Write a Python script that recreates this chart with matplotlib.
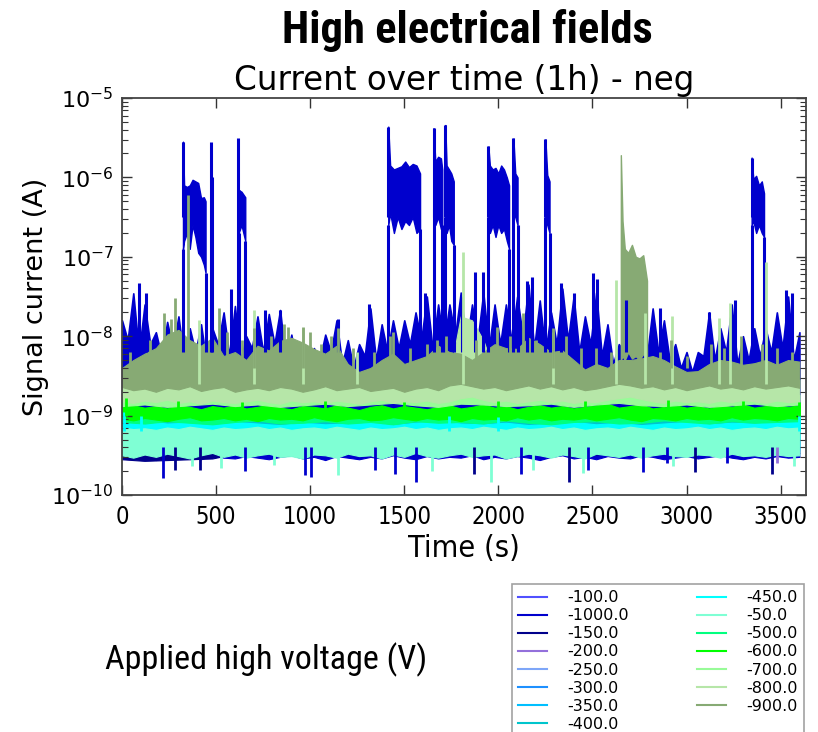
import os
import numpy as np
import matplotlib
matplotlib.use("Agg")
from matplotlib import pyplot as plt
from matplotlib import font_manager as fm
from matplotlib.lines import Line2D
from matplotlib.ticker import LogLocator, NullFormatter

## sample grids (s)
t60 = np.arange(0, 3601, 60)
t120 = np.arange(0, 3601, 120)
t300 = np.arange(0, 3601, 300)

## all current values below are log10(I / A)

# -1000 V : noisy baseline (peaks every 60 s, troughs in between) plus the bursts
blue_peak = [-7.80, -7.46, -7.60, -7.95, -7.82, -7.75, -7.90, -7.85, -7.90, -7.70,
             -7.62, -8.00, -7.75, -7.72, -7.67, -7.98, -8.10, -8.15, -7.98, -7.80,
             -8.05, -8.10, -7.65, -7.85, -7.80, -7.80, -7.70, -7.50, -7.60, -7.60,
             -7.45, -7.60, -7.45, -7.60, -7.60, -7.50, -7.35, -7.55, -7.70, -7.40,
             -7.50, -7.75, -7.45, -7.85, -8.10, -7.60, -7.80, -7.65, -7.80, -8.10,
             -8.20, -8.20, -7.70, -7.90, -7.60, -8.00, -7.90, -7.90, -7.70, -7.50,
             -7.95]
blue_trough = [-8.05, -8.20, -8.10, -8.25, -8.15, -8.30, -8.20, -8.35, -8.10, -8.25,
               -8.30, -8.15, -8.20, -8.10, -8.30, -8.40, -8.35, -8.30, -8.20, -8.35,
               -8.40, -8.25, -8.30, -8.20, -8.15, -8.10, -8.05, -8.15, -8.10, -8.00,
               -8.10, -8.05, -8.15, -8.10, -8.05, -8.00, -8.15, -8.20, -8.10, -8.05,
               -8.20, -8.10, -8.25, -8.35, -8.20, -8.15, -8.25, -8.20, -8.30, -8.40,
               -8.45, -8.25, -8.30, -8.20, -8.35, -8.30, -8.25, -8.20, -8.15, -8.30]
blue_lo = [-9.52, -9.55, -9.53, -9.56, -9.51, -9.54, -9.52, -9.55, -9.50, -9.53,
           -9.54, -9.51, -9.53, -9.55, -9.52, -9.50, -9.54, -9.52, -9.56, -9.51,
           -9.53, -9.55, -9.52, -9.54, -9.50, -9.53, -9.55, -9.51, -9.54, -9.52,
           -9.53, -9.50, -9.55, -9.52, -9.54, -9.51, -9.53, -9.56, -9.52, -9.50,
           -9.54, -9.52, -9.55, -9.51, -9.53, -9.54, -9.50, -9.52, -9.55, -9.53,
           -9.51, -9.54, -9.52, -9.50, -9.53, -9.55, -9.52, -9.54, -9.51, -9.53,
           -9.52]
blue_spike_t = [93, 130, 471, 480, 578, 617, 760, 840, 1150, 1310, 1610, 1805, 1878,
                1917, 2150, 2180, 2333, 2400, 2503, 2525, 2680, 2860, 3120, 3260,
                3528, 3563]
blue_spike_v = [-7.33, -7.45, -5.55, -6.00, -7.40, -5.51, -7.67, -7.67, -7.78, -7.59,
                -7.45, -7.50, -7.19, -7.19, -7.30, -7.26, -7.33, -7.45, -7.21, -7.28,
                -7.54, -7.65, -7.70, -7.55, -7.42, -7.45]
blue_dip_t = [220, 655, 972, 1005, 1344, 1451, 1563, 2120, 2476, 2770, 2895, 3215]
blue_dip_v = [-9.78, -9.70, -9.75, -9.77, -9.69, -9.73, -9.83, -9.73, -9.69, -9.71,
              -9.60, -9.60]
# bursts: (times, top, bottom)
blue_bursts = [
    ([324, 330, 345, 360, 375, 390, 405, 420, 435, 444],
     [-5.55, -6.10, -6.12, -6.10, -6.03, -6.05, -6.07, -6.26, -6.25, -6.30],
     [-6.90, -6.80, -6.70, -6.90, -6.60, -6.75, -6.95, -7.00, -7.10, -7.20]),
    ([620, 635, 655], [-6.16, -6.18, -6.25], [-6.70, -6.60, -6.80]),
    ([1415, 1425, 1445, 1465, 1485, 1505, 1525, 1545, 1565, 1584],
     [-5.36, -5.85, -5.90, -5.88, -5.86, -5.80, -5.87, -5.83, -5.85, -5.95],
     [-6.60, -6.45, -6.70, -6.50, -6.65, -6.55, -6.60, -6.50, -6.70, -6.65]),
    ([1656, 1665, 1680, 1695, 1702],
     [-5.38, -5.80, -5.74, -5.76, -5.90], [-6.40, -6.60, -6.50, -6.65, -6.60]),
    ([1718, 1725, 1738, 1750, 1763],
     [-5.34, -5.85, -5.90, -5.95, -6.05], [-6.50, -6.70, -6.60, -6.80, -6.85]),
    ([1947, 1955, 1970, 1985, 2000, 2015, 2030, 2045, 2057],
     [-5.61, -5.85, -5.90, -5.88, -5.95, -5.85, -5.90, -6.00, -6.10],
     [-6.50, -6.70, -6.60, -6.75, -6.60, -6.70, -6.65, -6.80, -6.90]),
    ([2080, 2090, 2102], [-5.51, -5.95, -6.00], [-6.40, -6.50, -6.60]),
    ([2250, 2260, 2272], [-5.52, -5.97, -6.05], [-6.50, -6.60, -6.70]),
    ([3346, 3355, 3370, 3385, 3400, 3412],
     [-5.75, -6.02, -5.98, -6.10, -6.05, -6.20],
     [-6.60, -6.55, -6.70, -6.60, -6.70, -6.75]),
]

# -900 V
s900_hi = [-8.40, -8.30, -8.22, -8.15, -7.98, -7.92, -8.05, -8.12, -8.02, -8.25,
           -8.20, -8.30, -8.12, -8.18, -8.06, -8.02, -8.08, -8.16, -8.22, -8.12,
           -8.35, -8.45, -8.40, -8.30, -8.22, -8.35, -8.30, -8.25, -8.12, -8.20,
           -8.22, -8.30, -8.20, -8.10, -8.15, -8.16, -8.02, -8.10, -8.20, -8.18,
           -8.30, -8.42, -8.35, -8.40, -8.30, -8.30, -8.28, -8.25, -8.30, -8.38,
           -8.45, -8.44, -8.35, -8.30, -8.32, -8.36, -8.34, -8.30, -8.36, -8.30,
           -8.32]
s900_lo = [-8.64, -8.68, -8.66, -8.70, -8.65, -8.67, -8.63, -8.69, -8.66, -8.64,
           -8.70, -8.67, -8.65, -8.68, -8.64, -8.66, -8.70, -8.67, -8.63, -8.68,
           -8.66, -8.64, -8.69, -8.67, -8.65, -8.70, -8.66, -8.64, -8.68, -8.62,
           -8.60, -8.63, -8.66, -8.64, -8.68, -8.65, -8.62, -8.66, -8.63, -8.67,
           -8.64, -8.68, -8.66, -8.63, -8.60, -8.62, -8.65, -8.63, -8.67, -8.64,
           -8.68, -8.65, -8.62, -8.66, -8.64, -8.67, -8.63, -8.66, -8.64, -8.62,
           -8.65]
s900_spike_t = [40, 150, 221, 262, 283, 350, 515, 560, 640, 700, 790, 860, 880, 961,
                1000, 1060, 1110, 1150, 1230, 1340, 1425, 1440, 1530, 1620, 1675, 1720,
                1880, 1994, 2060, 2130, 2200, 2290, 2360, 2440, 2520, 2600, 2860, 2915,
                3000, 3130, 3200, 3290, 3400, 3480, 3560]
s900_spike_v = [-8.20, -8.05, -7.71, -7.78, -7.52, -6.22, -7.65, -7.95, -8.05, -7.90,
                -8.00, -7.85, -7.88, -7.88, -7.95, -8.10, -8.00, -7.90, -8.15, -8.20,
                -8.00, -7.95, -8.15, -8.10, -8.05, -8.00, -8.05, -7.88, -8.00, -7.71,
                -8.05, -7.90, -8.00, -8.15, -8.15, -8.20, -8.20, -8.05, -8.25, -8.10,
                -8.15, -8.00, -8.10, -8.15, -8.20]
s900_burst_t = [2651, 2660, 2672, 2690, 2710, 2730, 2750, 2770, 2790]
s900_burst_hi = [-5.72, -6.55, -6.90, -6.95, -6.85, -7.00, -7.02, -6.98, -7.30]
s900_burst_lo = [-8.30, -8.25, -8.30, -8.20, -8.28, -8.25, -8.30, -8.22, -8.30]

# -800 V
s800_hi = [-8.56, -8.60, -8.58, -8.55, -8.52, -8.57, -8.54, -8.60, -8.56, -8.58,
           -8.55, -8.59, -8.53, -8.57, -8.60, -8.56, -8.52, -8.58, -8.55, -8.60,
           -8.57, -8.62, -8.58, -8.55, -8.60, -8.57, -8.55, -8.58, -8.54, -8.50,
           -7.75, -7.80, -8.05, -8.45, -8.52, -8.55, -8.50, -8.54, -8.48, -8.52,
           -8.56, -8.58, -8.55, -8.50, -8.40, -8.35, -8.40, -8.52, -8.55, -8.58,
           -8.60, -8.57, -8.54, -8.52, -8.56, -8.55, -8.58, -8.54, -8.56, -8.52,
           -8.55]
s800_lo = [-8.82, -8.84, -8.81, -8.83, -8.80, -8.84, -8.82, -8.85, -8.81, -8.83,
           -8.84, -8.82, -8.80, -8.83, -8.85, -8.81, -8.83, -8.82, -8.84, -8.81,
           -8.83, -8.85, -8.82, -8.80, -8.84, -8.82, -8.83, -8.81, -8.84, -8.82,
           -8.78, -8.76, -8.80, -8.83, -8.81, -8.84, -8.82, -8.80, -8.83, -8.81,
           -8.84, -8.82, -8.83, -8.80, -8.78, -8.76, -8.79, -8.82, -8.84, -8.81,
           -8.83, -8.82, -8.84, -8.81, -8.83, -8.80, -8.82, -8.84, -8.81, -8.83,
           -8.82]
s800_spike_t = [408, 702, 960, 1250, 1810, 2290, 2627, 2779, 2921, 3171, 3233, 3420]
s800_spike_v = [-7.80, -7.67, -7.90, -8.20, -6.94, -7.95, -7.29, -7.71, -7.75, -7.77,
                -7.58, -7.07]

# -700 V
s700_hi = [-8.74, -8.77, -8.75, -8.78, -8.73, -8.76, -8.79, -8.75, -8.77, -8.74,
           -8.78, -8.76, -8.73, -8.77, -8.75, -8.70, -8.72, -8.76, -8.74, -8.78,
           -8.75, -8.73, -8.68, -8.72, -8.76, -8.74, -8.77, -8.75, -8.73, -8.76,
           -8.74]
s700_lo = [-8.88, -8.86, -8.89, -8.87, -8.85, -8.88, -8.86, -8.89, -8.87, -8.85,
           -8.88, -8.86, -8.84, -8.87, -8.89, -8.85, -8.86, -8.88, -8.87, -8.85,
           -8.89, -8.86, -8.84, -8.87, -8.88, -8.86, -8.89, -8.87, -8.85, -8.88,
           -8.86]

# -600 V
s600_hi = [-8.83, -8.87, -8.90, -8.88, -8.91, -8.87, -8.89, -8.92, -8.88, -8.90,
           -8.87, -8.91, -8.89, -8.86, -8.90, -8.92, -8.88, -8.89, -8.91, -8.87,
           -8.90, -8.93, -8.89, -8.87, -8.91, -8.88, -8.90, -8.92, -8.89, -8.87,
           -8.91, -8.89, -8.86, -8.90, -8.88, -8.92, -8.89, -8.87, -8.90, -8.88,
           -8.91, -8.89, -8.87, -8.85, -8.90, -8.88, -8.86, -8.91, -8.89, -8.87,
           -8.90, -8.88, -8.91, -8.87, -8.89, -8.86, -8.90, -8.88, -8.87, -8.89,
           -8.87]
s600_lo = [-9.04, -9.06, -9.03, -9.05, -9.07, -9.04, -9.02, -9.06, -9.05, -9.03,
           -9.06, -9.04, -9.07, -9.03, -9.05, -9.04, -9.06, -9.02, -9.05, -9.07,
           -9.04, -9.03, -9.06, -9.05, -9.02, -9.04, -9.06, -9.03, -9.05, -9.04,
           -9.07, -9.03, -9.05, -9.04, -9.06, -9.02, -9.05, -9.03, -9.06, -9.04,
           -9.05, -9.03, -9.06, -9.04, -9.02, -9.05, -9.07, -9.03, -9.04, -9.06,
           -9.03, -9.05, -9.04, -9.06, -9.02, -9.05, -9.03, -9.04, -9.06, -9.03,
           -9.04]
s600_spike_t = [20, 300, 640, 1080, 1500, 2000, 2460, 2900, 3300, 3600]
s600_spike_v = [-8.78, -8.82, -8.83, -8.82, -8.83, -8.81, -8.82, -8.80, -8.82, -8.83]

# -500 V
s500_hi = [-8.96, -8.98, -8.95, -8.97, -8.99, -8.96, -8.94, -8.98, -8.97, -8.95,
           -8.98, -8.96, -8.99, -8.95, -8.97, -8.96, -8.98, -8.94, -8.97, -8.99,
           -8.96, -8.95, -8.98, -8.97, -8.94, -8.96, -8.98, -8.95, -8.97, -8.96,
           -8.95]
s500_lo = [-9.08, -9.10, -9.07, -9.09, -9.11, -9.08, -9.06, -9.10, -9.09, -9.07,
           -9.10, -9.08, -9.11, -9.07, -9.09, -9.08, -9.10, -9.06, -9.09, -9.11,
           -9.08, -9.07, -9.10, -9.09, -9.06, -9.08, -9.10, -9.07, -9.09, -9.08,
           -9.07]

# -450 V
s450_hi = [-9.02, -9.07, -9.10, -9.09, -9.11, -9.08, -9.10, -9.12, -9.09, -9.11,
           -9.10, -9.08, -9.12, -9.09, -9.07, -9.10, -9.11, -9.09, -9.12, -9.10,
           -9.08, -9.11, -9.09, -9.12, -9.10, -9.08, -9.11, -9.09, -9.10, -9.08,
           -9.04]
s450_lo = [-9.30, -9.32, -9.29, -9.31, -9.33, -9.30, -9.28, -9.32, -9.31, -9.29,
           -9.32, -9.30, -9.33, -9.29, -9.31, -9.30, -9.32, -9.28, -9.31, -9.33,
           -9.30, -9.29, -9.32, -9.31, -9.28, -9.30, -9.32, -9.29, -9.31, -9.30,
           -9.29]
s450_spike_t = [10, 100, 1736, 2000, 3600]
s450_spike_v = [-8.95, -9.00, -9.01, -9.02, -8.98]

# -400 V
s400_hi = [-9.03, -9.05, -9.04, -9.06, -9.03, -9.05, -9.07, -9.04, -9.06, -9.05,
           -9.03, -9.06, -9.04, -9.05, -9.07, -9.03, -9.05, -9.04, -9.06, -9.05,
           -9.03, -9.06, -9.04, -9.07, -9.05, -9.03, -9.06, -9.04, -9.05, -9.06,
           -9.04]
s400_lo = [-9.31, -9.29, -9.32, -9.30, -9.28, -9.31, -9.33, -9.29, -9.30, -9.32,
           -9.28, -9.31, -9.30, -9.33, -9.29, -9.31, -9.30, -9.28, -9.32, -9.30,
           -9.31, -9.29, -9.33, -9.30, -9.28, -9.31, -9.30, -9.32, -9.29, -9.31,
           -9.30]

# -50 V
s50_hi = [-9.15, -9.17, -9.16, -9.18, -9.15, -9.17, -9.14, -9.16, -9.18, -9.15,
          -9.17, -9.16, -9.14, -9.17, -9.15, -9.18, -9.16, -9.15, -9.17, -9.14,
          -9.16, -9.18, -9.15, -9.17, -9.16, -9.14, -9.17, -9.15, -9.18, -9.16,
          -9.15, -9.17, -9.14, -9.16, -9.18, -9.15, -9.17, -9.16, -9.14, -9.17,
          -9.15, -9.18, -9.16, -9.15, -9.17, -9.14, -9.16, -9.18, -9.15, -9.17,
          -9.16, -9.14, -9.17, -9.15, -9.18, -9.16, -9.15, -9.17, -9.14, -9.16,
          -9.15]
s50_lo = [-9.50, -9.53, -9.49, -9.52, -9.48, -9.51, -9.54, -9.50, -9.47, -9.52,
          -9.49, -9.53, -9.50, -9.48, -9.52, -9.51, -9.54, -9.49, -9.50, -9.53,
          -9.48, -9.51, -9.50, -9.54, -9.49, -9.52, -9.47, -9.51, -9.53, -9.50,
          -9.48, -9.52, -9.50, -9.49, -9.54, -9.51, -9.48, -9.50, -9.53, -9.49,
          -9.51, -9.54, -9.48, -9.50, -9.52, -9.49, -9.53, -9.50, -9.48, -9.51,
          -9.52, -9.49, -9.50, -9.53, -9.48, -9.51, -9.50, -9.52, -9.49, -9.51,
          -9.50]
s50_dip_t = [372, 524, 809, 1148, 1650, 1959, 2182, 2449, 2930, 3572]
s50_dip_v = [-9.64, -9.66, -9.62, -9.75, -9.70, -9.83, -9.68, -9.72, -9.64, -9.64]

# -150 V
s150_hi = [-9.30, -9.32, -9.29, -9.31, -9.33, -9.30, -9.28, -9.32, -9.31, -9.29,
           -9.32, -9.30, -9.33, -9.29, -9.31, -9.30, -9.32, -9.28, -9.31, -9.33,
           -9.30, -9.29, -9.32, -9.31, -9.28, -9.30, -9.32, -9.29, -9.31, -9.30,
           -9.29]
s150_lo = [-9.55, -9.57, -9.56, -9.55, -9.54, -9.48, -9.47, -9.49, -9.48, -9.46,
           -9.48, -9.47, -9.49, -9.46, -9.48, -9.47, -9.49, -9.48, -9.46, -9.48,
           -9.47, -9.49, -9.46, -9.48, -9.47, -9.49, -9.48, -9.46, -9.47, -9.48,
           -9.47]
s150_dip_t = [283, 417, 1870, 2378, 3046, 3456]
s150_dip_v = [-9.68, -9.68, -9.73, -9.83, -9.71, -9.73]

# low-voltage runs, almost fully hidden under the -50 V band
s100_hi = [-9.22, -9.25, -9.23, -9.26, -9.24, -9.22, -9.25, -9.23, -9.26, -9.24, -9.22, -9.25, -9.23]
s100_lo = [-9.46, -9.48, -9.45, -9.47, -9.49, -9.46, -9.48, -9.45, -9.47, -9.46, -9.48, -9.45, -9.47]
s200_hi = [-9.24, -9.22, -9.25, -9.23, -9.26, -9.24, -9.22, -9.25, -9.23, -9.26, -9.24, -9.22, -9.25]
s200_lo = [-9.45, -9.47, -9.46, -9.48, -9.45, -9.47, -9.46, -9.48, -9.45, -9.47, -9.46, -9.48, -9.47]
s250_hi = [-9.23, -9.25, -9.22, -9.24, -9.26, -9.23, -9.25, -9.22, -9.24, -9.26, -9.23, -9.25, -9.24]
s250_lo = [-9.44, -9.46, -9.45, -9.47, -9.44, -9.46, -9.45, -9.47, -9.44, -9.46, -9.45, -9.47, -9.46]
s300_hi = [-9.21, -9.23, -9.22, -9.24, -9.21, -9.23, -9.22, -9.24, -9.21, -9.23, -9.22, -9.24, -9.22]
s300_lo = [-9.43, -9.45, -9.44, -9.46, -9.43, -9.45, -9.44, -9.46, -9.43, -9.45, -9.44, -9.46, -9.44]
s350_hi = [-9.18, -9.20, -9.19, -9.21, -9.18, -9.20, -9.19, -9.21, -9.18, -9.20, -9.19, -9.21, -9.19]
s350_lo = [-9.40, -9.42, -9.41, -9.43, -9.40, -9.42, -9.41, -9.43, -9.40, -9.42, -9.41, -9.43, -9.41]
s200_dip_t = [3483]
s200_dip_v = [-9.60]

labels = ["-100.0", "-1000.0", "-150.0", "-200.0", "-250.0", "-300.0", "-350.0",
          "-400.0", "-450.0", "-50.0", "-500.0", "-600.0", "-700.0", "-800.0", "-900.0"]
colors = ["#5050ff", "#0000cd", "#00008b", "#9370db", "#7ea6f8", "#1e90ff", "#00bfff",
          "#00c5cc", "#00ffff", "#7fffd4", "#00ff7f", "#00ff00", "#98fb98", "#b6e6a8",
          "#87aa74"]
col = dict(zip(labels, colors))


def pick_font(prefixes, size):
    files = sorted(f.fname for f in fm.fontManager.ttflist)
    for p in prefixes:
        for path in files:
            if os.path.basename(path).lower().startswith(p):
                return fm.FontProperties(fname=path, size=size)
    return fm.FontProperties(family="DejaVu Sans", size=size)


def E(v):
    return 10.0 ** np.asarray(v, dtype=float)


plt.rcParams["mathtext.default"] = "regular"
fig = plt.figure(figsize=(8.18, 7.32), dpi=100)
ax = fig.add_axes([122 / 818, 1 - 495 / 732, 684 / 818, 397 / 732])


def band(t, lo, hi, c):
    ax.fill_between(t, E(lo), E(hi), color=c, lw=0.8)


def spikes(ts, vs, base, c, lw=2.0):
    ax.vlines(ts, 10.0 ** base, E(vs), color=c, lw=lw)


# draw in the legend order (later runs sit on top)
band(t300, s100_lo, s100_hi, col["-100.0"])

# -1000 V
blue = col["-1000.0"]
ax.fill_between(t60, E(blue_lo), 1e-9, color=blue, lw=0.8)
zig_t = np.concatenate([t60, t60[:-1] + 30])
zig_v = np.concatenate([blue_peak, blue_trough])
order = np.argsort(zig_t)
ax.fill_between(zig_t[order], 1e-9, E(zig_v[order]), color=blue, lw=1.2)
for bt, bhi, blo in blue_bursts:
    ax.fill_between(bt, E(blo), E(bhi), color=blue, lw=1.0)
    spikes([bt[0], bt[-1]], [blo[0], blo[-1]], -8.2, blue, lw=2.2)
    spikes([bt[0]], [bhi[0]], -6.5, blue, lw=2.2)
spikes(blue_spike_t, blue_spike_v, -8.2, blue, lw=2.2)
spikes(blue_dip_t, blue_dip_v, -9.4, blue)

band(t120, s150_lo, s150_hi, col["-150.0"])
spikes(s150_dip_t, s150_dip_v, -9.4, col["-150.0"])
band(t300, s200_lo, s200_hi, col["-200.0"])
spikes(s200_dip_t, s200_dip_v, -9.4, col["-200.0"])
band(t300, s250_lo, s250_hi, col["-250.0"])
band(t300, s300_lo, s300_hi, col["-300.0"])
band(t300, s350_lo, s350_hi, col["-350.0"])
band(t120, s400_lo, s400_hi, col["-400.0"])
band(t120, s450_lo, s450_hi, col["-450.0"])
spikes(s450_spike_t, s450_spike_v, -9.2, col["-450.0"])
band(t60, s50_lo, s50_hi, col["-50.0"])
spikes(s50_dip_t, s50_dip_v, -9.3, col["-50.0"])
band(t120, s500_lo, s500_hi, col["-500.0"])
band(t60, s600_lo, s600_hi, col["-600.0"])
spikes(s600_spike_t, s600_spike_v, -9.0, col["-600.0"])
band(t120, s700_lo, s700_hi, col["-700.0"])
band(t60, s800_lo, s800_hi, col["-800.0"])
spikes(s800_spike_t, s800_spike_v, -8.6, col["-800.0"])
band(t60, s900_lo, s900_hi, col["-900.0"])
ax.fill_between(s900_burst_t, E(s900_burst_lo), E(s900_burst_hi), color=col["-900.0"], lw=1.0)
spikes(s900_spike_t, s900_spike_v, -8.4, col["-900.0"])

ax.set_yscale("log")
ax.set_xlim(0, 3635)
ax.set_ylim(1e-10, 1e-5)
ax.set_xticks(np.arange(0, 3501, 500))
ax.yaxis.set_minor_locator(LogLocator(base=10, subs=np.arange(2, 10)))
ax.yaxis.set_minor_formatter(NullFormatter())
ax.tick_params(which="both", direction="in", top=True, right=True, color="#333333")
ax.tick_params(which="major", length=7, width=1.0)
ax.tick_params(which="minor", length=4, width=0.8)
ax.tick_params(axis="y", labelsize=16, pad=6)
for s in ax.spines.values():
    s.set_color("#444444")
    s.set_linewidth(1.3)

cond_names = ["dejavusanscondensed.", "robotocondensed-regular.", "liberationsansnarrow-regular."]
cond = pick_font(cond_names, 17)
for lab in ax.get_xticklabels():
    lab.set_fontproperties(cond)
ax.tick_params(axis="x", pad=7)

ax.set_xlabel("Time (s)", fontproperties=pick_font(cond_names, 22), labelpad=4)
ax.set_ylabel("Signal current (A)", fontsize=19.5, labelpad=2)
ax.set_title("Current over time (1h) - neg", fontsize=23.5, pad=6)

big = pick_font(["robotocondensed-bold.", "liberationsansnarrow-bold.", "dejavusanscondensed-bold."], 32)
fig.text(467 / 818, 1 - 30 / 732, "High electrical fields", fontproperties=big,
         ha="center", va="center")
side = pick_font(["robotocondensed-regular.", "liberationsansnarrow-regular.", "dejavusanscondensed."], 24.5)
fig.text(105 / 818, 1 - 660 / 732, "Applied high voltage (V)", fontproperties=side,
         ha="left", va="center")

handles = [Line2D([], [], color=c, lw=1.5) for c in colors]
leg = fig.legend(handles, labels, loc="upper left", bbox_to_anchor=(512 / 818, 1 - 584 / 732),
                 ncol=2, fontsize=11.5, frameon=True, fancybox=False, edgecolor="#8a8a8a",
                 handlelength=1.8, handletextpad=1.25, columnspacing=4.3, labelspacing=0.19,
                 borderpad=0.4, borderaxespad=0)
leg.get_frame().set_linewidth(1.2)

fig.savefig("out.png", dpi=100)
